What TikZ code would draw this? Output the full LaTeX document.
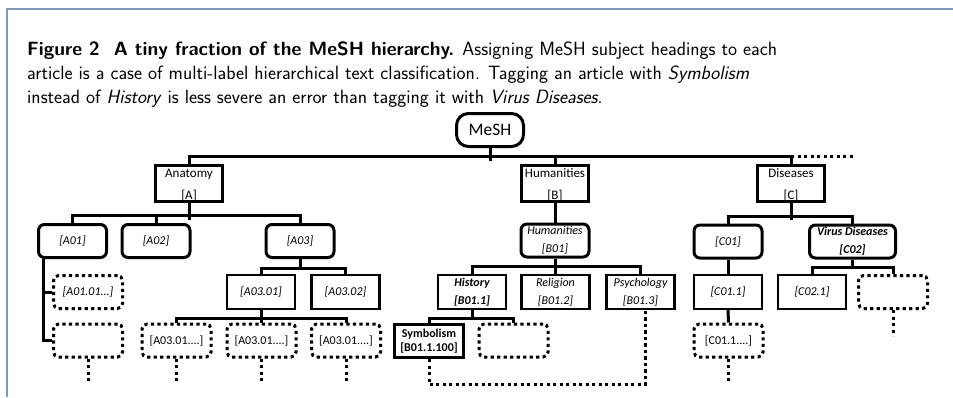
\documentclass[tikz,border=0pt]{standalone}
\usepackage{fontspec}
\newfontfamily\boxfont{Carlito}
\usetikzlibrary{calc}
\definecolor{framegray}{RGB}{128,152,184}

\begin{document}
\begin{tikzpicture}[x=1pt,y=-1pt,
  heading/.style={draw, line width=3pt, minimum width=67pt, minimum height=32pt,
    inner sep=0pt, align=center, font=\boxfont\fontsize{13}{15.6}\selectfont},
  root/.style={heading, rounded corners=12pt, minimum height=33pt,
    font=\boxfont\fontsize{17.5}{20}\selectfont},
  topic/.style={draw, line width=3pt, rounded corners=6pt, minimum width=68pt,
    minimum height=33pt, inner sep=0pt, align=center,
    font=\boxfont\itshape\fontsize{12}{18}\selectfont},
  sub/.style={draw, line width=2.2pt, minimum width=68pt, minimum height=34pt,
    inner sep=0pt, align=center, font=\boxfont\itshape\fontsize{12}{18}\selectfont},
  leaf/.style={draw, line width=3pt, dash pattern=on 3.2pt off 3.3pt,
    rounded corners=5pt, minimum width=69pt, minimum height=33pt, inner sep=0pt,
    align=center, font=\boxfont\fontsize{12}{14}\selectfont},
  link/.style={line width=3pt},
  tail/.style={line width=3pt, dash pattern=on 3.2pt off 3.3pt},
  captxt/.style={anchor=base west, inner sep=0pt,
    font=\sffamily\fontsize{19.2}{24}\selectfont}
]
  \useasboundingbox (0,0) rectangle (953,397);

  % frame and caption
  \draw[framegray, line width=1.5pt] (953,9) -- (7,9) -- (7,397);
  \node[captxt] (capa) at (27,55) {\textbf{Figure 2\ \ A tiny fraction of the MeSH hierarchy.} Assigning MeSH subject headings to each};
  \node[captxt] (capb) at (27,79) {article is a case of multi-label hierarchical text classification. Tagging an article with \textit{Symbolism}};
  \node[captxt] (capc) at (27,103) {instead of \textit{History} is less severe an error than tagging it with \textit{Virus Diseases}.};

  % root and first level (the code sits low, on the bottom edge)
  \node[root] (mesh) at (490,130) {MeSH};
  \node[heading] (anatomy)    at (189,183.5) {\rule{0pt}{12pt}Anatomy\\[6pt]{[A]}};
  \node[heading] (humanities) at (555,183.5) {\rule{0pt}{12pt}Humanities\\[6pt]{[B]}};
  \node[heading] (diseases)   at (791,183.5) {\rule{0pt}{12pt}Diseases\\[6pt]{[C]}};

  % second level
  \node[topic] (a01) at (72.5,241) {[A01]};
  \node[topic] (a02) at (156,241) {[A02]};
  \node[topic] (a03) at (300,241) {[A03]};
  \node[topic] (b01) at (555,240.5) {Humanities\\{[B01]}};
  \node[topic] (c01) at (728,241.5) {[C01]};
  \node[topic, minimum width=86pt, font=\boxfont\bfseries\itshape\fontsize{12}{18}\selectfont]
    (c02) at (852.5,241.5) {Virus Diseases\\{[C02]}};

  % third level
  \node[leaf, font=\boxfont\itshape\fontsize{12}{14}\selectfont] (a0101) at (88,292) {[A01.01...]};
  \node[sub] (a0301) at (261,292) {[A03.01]};
  \node[sub] (a0302) at (345.5,292) {[A03.02]};
  \node[sub, font=\boxfont\bfseries\itshape\fontsize{12}{18}\selectfont] (history) at (472,292) {History\\{[B01.1]}};
  \node[sub] (religion)   at (555.5,292) {Religion\\{[B01.2]}};
  \node[sub] (psychology) at (640.5,292) {Psychology\\{[B01.3]}};
  \node[sub] (c011) at (728,292) {[C01.1]};
  \node[sub] (c021) at (812,292) {[C02.1]};
  \node[leaf] (c02x) at (893,292) {};

  % fourth level
  \node[leaf] (a01x) at (88,340.5) {};
  \node[leaf] (a0301a) at (176.5,340.5) {[A03.01....]};
  \node[leaf] (a0301b) at (261.5,340.5) {[A03.01....]};
  \node[leaf] (a0301c) at (346,340.5) {[A03.01....]};
  \node[draw, line width=3pt, minimum width=69pt, minimum height=33pt, inner sep=0pt,
    align=center, font=\boxfont\bfseries\fontsize{12}{14}\selectfont]
    (symbolism) at (429,341) {Symbolism\\{[B01.1.100]}};
  \node[leaf] (historyx) at (513.5,340.5) {};
  \node[leaf] (c011x) at (728.5,340.5) {[C01.1....]};

  % tree links
  \draw[link] (mesh.south) -- ++(0,12.5);
  \draw[link] (anatomy.north) -- ++(0,-8) -| (diseases.north);
  \draw[link] (humanities.north) -- ++(0,-8);
  \draw[tail] (diseases.north) ++(0,-8) -- ++(62,0);

  \draw[link] (anatomy.south) -- ++(0,17.5);
  \draw[link] (a01.north) -- ++(0,-7.5) -| (a03.north);
  \draw[link] (a02.north) -- ++(0,-7.5);
  \draw[link] ([xshift=6.5pt]a01.south west) |- (a01x.west);
  \draw[link] (a0101.west) -| ([xshift=6.5pt]a01.south west);

  \draw[link] (a03.south) -- ++(0,9) -| (a0302.north);
  \draw[link] (a03.south) ++(0,9) -| (a0301.north);
  \draw[link] (a0301.south) -- ++(0,8) -| (a0301a.north);
  \draw[link] (a0301.south) ++(0,8) -| (a0301c.north);
  \draw[link] (a0301b.north) -- ++(0,-7.5);

  \draw[link] (humanities.south) -- (b01.north);
  \draw[link] (history.north) -- ++(0,-7) -| (psychology.north);
  \draw[link] (religion.north) -- ++(0,-7) -| (b01.south);
  \draw[link] (history.south) -- ++(0,8) -| (symbolism.north);
  \draw[link] (history.south) ++(0,8) -| (historyx.north);

  \draw[link] (diseases.south) -- ++(0,17.5);
  \draw[link] (c01.north) -- ++(0,-7.5) -| (c02.north);
  \draw[link] (c01.south) -- (c011.north);
  \draw[link] (c011.south) -- (c011x.north);
  \draw[link] (c02.south) -- ++(0,8) -| (c021.north);
  \draw[link] (c02.south) ++(0,8) -| (c02x.north);

  % open ends
  \draw[tail] (a01x.south) -- ++(0,25);
  \draw[tail] (a0301a.south) -- ++(0,25);
  \draw[tail] (a0301b.south) -- ++(0,25);
  \draw[tail] (a0301c.south) -- ++(0,25);
  \draw[tail] (c011x.south) -- ++(0,25);
  \draw[tail] (c02x.south) -- ++(0,26);
  \draw[tail] (symbolism.south) -- ++(0,25.5) -| ($(psychology.south)+(4.5,0)$);
\end{tikzpicture}
\end{document}
